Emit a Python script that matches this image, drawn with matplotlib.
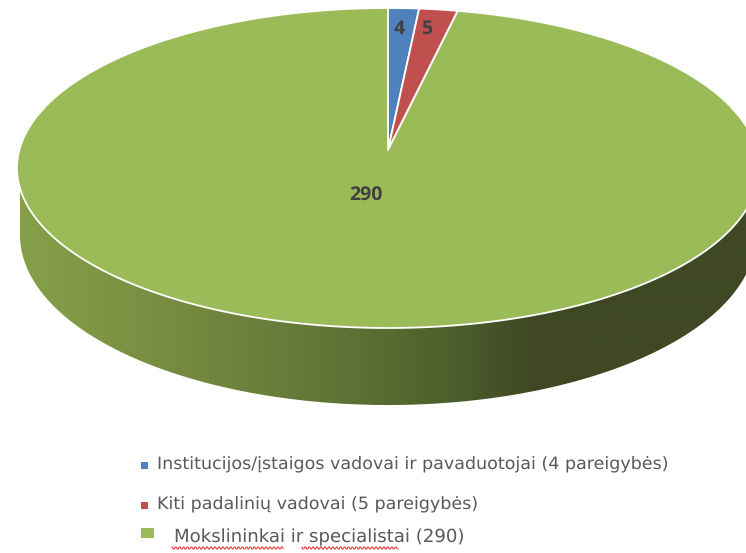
import matplotlib
matplotlib.use('Agg')
import numpy as np
import matplotlib.pyplot as plt
from matplotlib.colors import LinearSegmentedColormap
from matplotlib.patches import Polygon, Rectangle

# values as shown on the chart
categories = ['Institucijos/įstaigos vadovai ir pavaduotojai (4 pareigybės)',
              'Kiti padalinių vadovai (5 pareigybės)',
              'Mokslininkai ir specialistai (290)']
values = [4, 5, 290]
value_labels = ['4', '5', '290']
colors = ['#4f81bd', '#c0504d', '#9bbb59']

W, H = 746, 553
cx, cy = 388, 168      # top ellipse centre, px
rx, ry = 371, 160      # top ellipse radii, px
apex_y = 150           # slices meet above the ellipse centre (perspective)
low_cy, low_rx, low_ry = 235, 368, 170   # lower rim of the wall

plt.rcParams['font.family'] = ['DejaVu Sans']
plt.rcParams['text.hinting'] = 'none'
fig = plt.figure(figsize=(W / 100, H / 100), dpi=100)
ax = fig.add_axes([0, 0, 1, 1])
ax.set_axis_off()

# wall of the disc, shaded along x and clipped to the band between the rims
side = LinearSegmentedColormap.from_list('side', [
    (0.00, '#86a04a'), (0.23, '#75893f'), (0.38, '#647a38'), (0.49, '#586d32'),
    (0.60, '#4b5c2c'), (0.70, '#3f4823'), (1.00, '#3f4823')])
bx = low_rx * np.cos(np.linspace(np.pi, 2 * np.pi, 400))
top = cy + ry * np.sqrt(np.clip(1 - (bx / rx) ** 2, 0, 1))
low = low_cy + low_ry * np.sqrt(np.clip(1 - (bx / low_rx) ** 2, 0, 1))
band = np.column_stack([np.r_[bx, bx[::-1]] + cx, np.r_[top - 3, low[::-1]]])
im = ax.imshow(np.linspace(0, 1, 512)[np.newaxis, :], cmap=side, aspect='auto',
               extent=[cx - low_rx, cx + low_rx, 410, 150], zorder=1)
clip = Polygon(band, closed=True, transform=ax.transData, facecolor='none', edgecolor='none')
ax.add_patch(clip)
im.set_clip_path(clip)

# slices, clockwise from 12 o'clock
edges = np.r_[0, np.cumsum(values)] / np.sum(values) * 2 * np.pi
for i, c in enumerate(colors):
    a = np.linspace(edges[i], edges[i + 1], 400)
    xs = np.r_[cx, cx + rx * np.sin(a)]
    ys = np.r_[apex_y, cy - ry * np.cos(a)]
    ax.fill(xs, ys, facecolor=c, edgecolor='white', linewidth=1.3, zorder=2,
            joinstyle='round')

ax.set_xlim(0, W)
ax.set_ylim(H, 0)

# data labels
for lab, (x, y) in zip(value_labels, [(399, 29), (427, 29), (366, 195)]):
    ax.text(x, y, lab, ha='center', va='center', fontsize=14, fontweight='bold',
            color='#404040', family=['Open Sans', 'DejaVu Sans'], zorder=3)

# legend, placed by hand because the spacing is uneven
legend_y = [465, 505, 537]
text_x = [157, 157, 174]
text_size = [12.6, 12.6, 13.1]
boxes = [(141, 462, 7, 7), (141, 502, 7, 7), (141, 528, 13, 10)]
for i, lab in enumerate(categories):
    bx0, by0, bw, bh = boxes[i]
    ax.add_patch(Rectangle((bx0, by0), bw, bh, facecolor=colors[i], edgecolor='none'))
    ax.text(text_x[i], legend_y[i], lab, ha='left', va='center', fontsize=text_size[i],
            color='#595959')

# spell-check squiggles under the last entry
for x0, x1 in [(172, 284), (302, 399)]:
    sx = np.arange(x0, x1, 1.0)
    ax.plot(sx, 548 + 1.3 * np.sin(sx * 1.6), color='#e04040', lw=0.8)

fig.savefig('out.png', dpi=100)
